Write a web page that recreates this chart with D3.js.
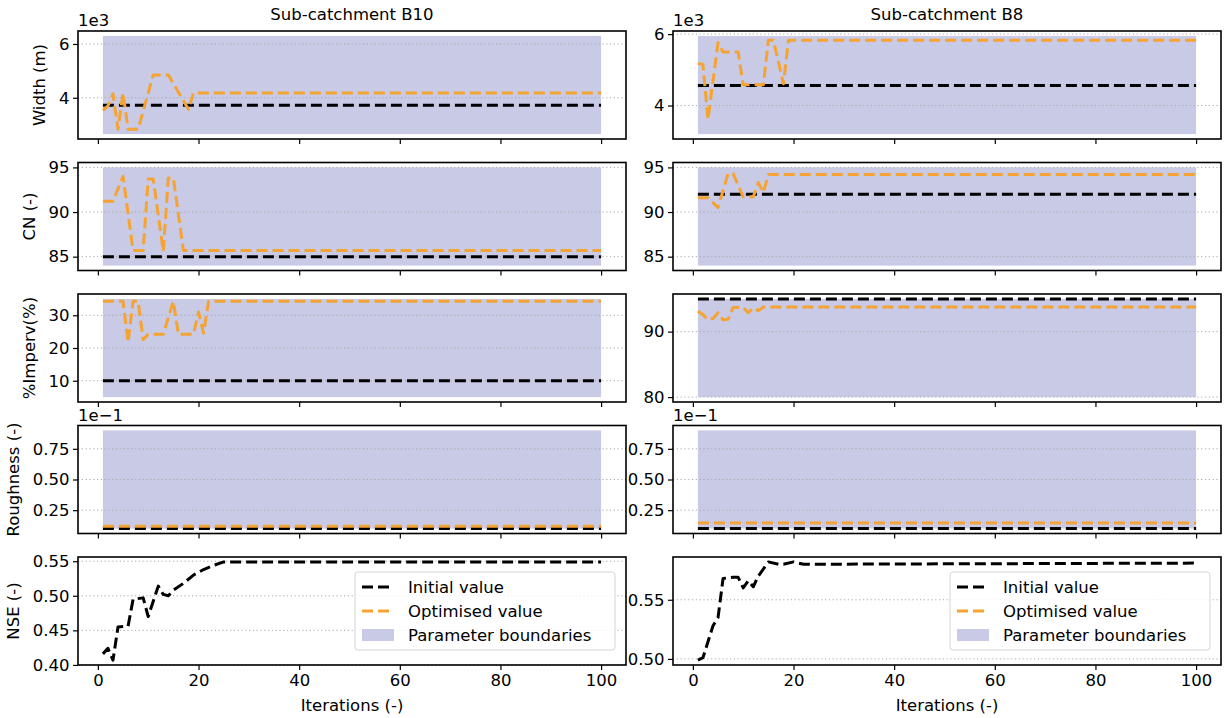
<!DOCTYPE html>
<html>
<head>
<meta charset="utf-8">
<script src="https://cdn.jsdelivr.net/npm/d3@7"></script>
<style>
    body { margin: 0; background: #fff; }
    svg { display: block; }
</style>
</head>
<body>
<svg id="calibration"></svg>
<script>
// Iteration axis
const iterStart = 1;
const iterEnd = 100;
const iterTicks = [0, 20, 40, 60, 80, 100];

// Sub-catchment B10 : [iteration, value] vertices of each trace
const b10WidthBounds = [2650, 6300];
const b10WidthInit = 3720;
const b10WidthOpt = [[1, 3530], [2, 3700], [3, 4150], [4, 2830], [5, 4180], [6, 2830], [8, 2830], [11, 4850], [14, 4850], [18, 3570], [19, 4180], [100, 4180]];
const b10CnBounds = [84, 95];
const b10CnInit = 85;
const b10CnOpt = [[1, 91.2], [3, 91.2], [5, 94.0], [7, 85.7], [9, 85.7], [10, 93.7], [11, 93.7], [13, 85.6], [14, 93.8], [15, 93.8], [17, 85.7], [100, 85.7]];
const b10ImpervBounds = [5, 35];
const b10ImpervInit = 10;
const b10ImpervOpt = [[1, 34.3], [5, 34.3], [6, 21.7], [7, 34.3], [8, 34.3], [9, 22.5], [10, 24.2], [13, 24.2], [15, 34.3], [16, 24.2], [19, 24.2], [20, 31], [21, 24.5], [22, 34.3], [100, 34.3]];
const b10RoughBounds = [0.010, 0.090];
const b10RoughInit = 0.010;
const b10RoughOpt = [[1, 0.012], [100, 0.012]];
const b10Nse = [[1, 0.416], [2, 0.424], [3, 0.407], [4, 0.455], [6, 0.456], [7, 0.495], [9, 0.497], [10, 0.470], [12, 0.514], [13, 0.502], [14, 0.500], [15, 0.508], [17, 0.518], [19, 0.530], [21, 0.538], [23, 0.544], [25, 0.549], [100, 0.549]];

// Sub-catchment B8
const b8WidthBounds = [3200, 5950];
const b8WidthInit = 4560;
const b8WidthOpt = [[1, 5180], [2, 5150], [3, 3610], [5, 5760], [6, 5500], [9, 5500], [10, 4580], [14, 4580], [15, 5830], [16, 5830], [18, 4610], [19, 5830], [100, 5830]];
const b8CnBounds = [84, 95];
const b8CnInit = 92;
const b8CnOpt = [[1, 91.6], [3, 91.6], [5, 90.5], [7, 94.3], [8, 94.3], [10, 91.7], [12, 91.7], [13, 93.3], [14, 92.2], [15, 94.2], [100, 94.2]];
const b8ImpervBounds = [80, 95];
const b8ImpervInit = 95;
const b8ImpervOpt = [[1, 93.1], [2, 92.6], [3, 91.8], [4, 92.0], [5, 92.9], [6, 91.8], [7, 91.9], [8, 93.7], [10, 93.7], [11, 92.9], [12, 93.6], [13, 93.2], [14, 93.75], [100, 93.75]];
const b8RoughBounds = [0.010, 0.090];
const b8RoughInit = 0.010;
const b8RoughOpt = [[1, 0.0145], [100, 0.0145]];
const b8Nse = [[1, 0.499], [2, 0.501], [4, 0.528], [5, 0.535], [6, 0.568], [8, 0.569], [9, 0.569], [10, 0.560], [11, 0.566], [12, 0.561], [13, 0.570], [15, 0.582], [17, 0.580], [18, 0.580], [20, 0.582], [22, 0.580], [100, 0.581]];

// Tick values per parameter
const widthTicks = [4000, 6000];
const cnTicks = [85, 90, 95];
const b10ImpervTicks = [10, 20, 30];
const b8ImpervTicks = [80, 90];
const roughTicks = [0.025, 0.05, 0.075];
const b10NseTicks = [0.40, 0.45, 0.50, 0.55];
const b8NseTicks = [0.50, 0.55];

const titles = ["Sub-catchment B10", "Sub-catchment B8"];
const rowLabels = ["Width (m)", "CN (-)", "%Imperv(%)", "Roughness (-)", "NSE (-)"];
const legendLabels = ["Initial value", "Optimised value", "Parameter boundaries"];

(function () {
    const width = 1226;
    const height = 718;
    const font = '"DejaVu Sans", "Liberation Sans", sans-serif';
    const fontSize = 16.5;

    const cols = [{ x0: 78, x1: 626 }, { x0: 673, x1: 1221 }];
    const rowTop = 31;
    const rowStep = 131.5;
    const rowH = 108;

    const initColor = "#000";
    const optColor = "#f5a332";
    const fillColor = "#c8cae6";
    const gridColor = "#a9a9a9";

    const svg = d3.select("#calibration")
        .attr("width", width)
        .attr("height", height)
        .style("font-family", font);

    const flat = v => [[iterStart, v], [iterEnd, v]];

    // One entry per subplot
    const panels = [
        { row: 0, col: 0, bounds: b10WidthBounds, init: flat(b10WidthInit), opt: b10WidthOpt, ticks: widthTicks, exp: 3, fmt: "d" },
        { row: 0, col: 1, bounds: b8WidthBounds, init: flat(b8WidthInit), opt: b8WidthOpt, ticks: widthTicks, exp: 3, fmt: "d" },
        { row: 1, col: 0, bounds: b10CnBounds, init: flat(b10CnInit), opt: b10CnOpt, ticks: cnTicks, exp: 0, fmt: "d" },
        { row: 1, col: 1, bounds: b8CnBounds, init: flat(b8CnInit), opt: b8CnOpt, ticks: cnTicks, exp: 0, fmt: "d" },
        { row: 2, col: 0, bounds: b10ImpervBounds, init: flat(b10ImpervInit), opt: b10ImpervOpt, ticks: b10ImpervTicks, exp: 0, fmt: "d" },
        { row: 2, col: 1, bounds: b8ImpervBounds, init: flat(b8ImpervInit), opt: b8ImpervOpt, ticks: b8ImpervTicks, exp: 0, fmt: "d" },
        { row: 3, col: 0, bounds: b10RoughBounds, init: flat(b10RoughInit), opt: b10RoughOpt, ticks: roughTicks, exp: -1, fmt: ".2f" },
        { row: 3, col: 1, bounds: b8RoughBounds, init: flat(b8RoughInit), opt: b8RoughOpt, ticks: roughTicks, exp: -1, fmt: ".2f" },
        { row: 4, col: 0, bounds: null, init: b10Nse, opt: null, ticks: b10NseTicks, exp: 0, fmt: ".2f" },
        { row: 4, col: 1, bounds: null, init: b8Nse, opt: null, ticks: b8NseTicks, exp: 0, fmt: ".2f" }
    ];

    const xPad = (iterEnd - iterStart) * 0.05;
    const xDomain = [iterStart - xPad, iterEnd + xPad];

    panels.forEach(p => {
        const col = cols[p.col];
        const top = rowTop + p.row * rowStep;
        const bottom = top + rowH;
        const isBottom = p.row === rowLabels.length - 1;

        const xScale = d3.scaleLinear().domain(xDomain).range([col.x0, col.x1]);

        // y extent from everything drawn, with 5% margins
        const vals = [];
        if (p.bounds) vals.push(...p.bounds);
        p.init.forEach(d => vals.push(d[1]));
        if (p.opt) p.opt.forEach(d => vals.push(d[1]));
        const [lo, hi] = d3.extent(vals);
        const yPad = (hi - lo) * 0.05;
        const yScale = d3.scaleLinear().domain([lo - yPad, hi + yPad]).range([bottom, top]);

        const g = svg.append("g");

        // parameter range band
        if (p.bounds) {
            g.append("rect")
                .attr("x", xScale(iterStart))
                .attr("width", xScale(iterEnd) - xScale(iterStart))
                .attr("y", yScale(p.bounds[1]))
                .attr("height", yScale(p.bounds[0]) - yScale(p.bounds[1]))
                .attr("fill", fillColor);
        }

        // dotted horizontal grid
        p.ticks.forEach(t => {
            g.append("line")
                .attr("x1", col.x0)
                .attr("x2", col.x1)
                .attr("y1", yScale(t))
                .attr("y2", yScale(t))
                .attr("stroke", gridColor)
                .attr("stroke-width", 1)
                .attr("stroke-dasharray", "1.2 2.6");
        });

        const line = d3.line()
            .x(d => xScale(d[0]))
            .y(d => yScale(d[1]));

        g.append("path")
            .datum(p.init)
            .attr("d", line)
            .attr("fill", "none")
            .attr("stroke", initColor)
            .attr("stroke-width", 3)
            .attr("stroke-linejoin", "round")
            .attr("stroke-dasharray", "11 5");

        if (p.opt) {
            g.append("path")
                .datum(p.opt)
                .attr("d", line)
                .attr("fill", "none")
                .attr("stroke", optColor)
                .attr("stroke-width", 3)
                .attr("stroke-linejoin", "round")
                .attr("stroke-dasharray", "11 5");
        }

        // axes
        const mult = Math.pow(10, p.exp);
        const yAxis = d3.axisLeft(yScale)
            .tickValues(p.ticks)
            .tickSize(5)
            .tickPadding(3.5)
            .tickFormat(v => d3.format(p.fmt)(v / mult));

        const ya = svg.append("g")
            .attr("transform", `translate(${col.x0},0)`)
            .call(yAxis);
        ya.select(".domain").remove();
        ya.attr("font-size", fontSize).attr("font-family", font);
        ya.selectAll("line").attr("stroke", "#000").attr("stroke-width", 1.2);
        ya.selectAll("text").attr("fill", "#000");

        const xAxis = d3.axisBottom(xScale)
            .tickValues(iterTicks)
            .tickSize(5)
            .tickPadding(4)
            .tickFormat(isBottom ? d3.format("d") : () => "");

        const xa = svg.append("g")
            .attr("transform", `translate(0,${bottom})`)
            .call(xAxis);
        xa.select(".domain").remove();
        xa.attr("font-size", fontSize).attr("font-family", font);
        xa.selectAll("line").attr("stroke", "#000").attr("stroke-width", 1.2);
        xa.selectAll("text").attr("fill", "#000");

        // axes frame
        svg.append("rect")
            .attr("x", col.x0)
            .attr("y", top)
            .attr("width", col.x1 - col.x0)
            .attr("height", bottom - top)
            .attr("fill", "none")
            .attr("stroke", "#000")
            .attr("stroke-width", 1.6);

        // scale factor above the axis
        if (p.exp !== 0) {
            svg.append("text")
                .attr("x", col.x0)
                .attr("y", top - 5)
                .attr("font-size", fontSize)
                .attr("fill", "#000")
                .text(p.exp > 0 ? `1e${p.exp}` : `1e\u2212${-p.exp}`);
        }

        if (p.row === 0) {
            svg.append("text")
                .attr("x", (col.x0 + col.x1) / 2)
                .attr("y", top - 11)
                .attr("text-anchor", "middle")
                .attr("font-size", fontSize)
                .attr("fill", "#000")
                .text(titles[p.col]);
        }

        if (p.col === 0) {
            const bb = ya.node().getBBox();
            const lx = col.x0 + bb.x - 14;
            const ly = (top + bottom) / 2;
            svg.append("text")
                .attr("x", lx)
                .attr("y", ly)
                .attr("transform", `rotate(-90,${lx},${ly})`)
                .attr("text-anchor", "middle")
                .attr("font-size", fontSize)
                .attr("fill", "#000")
                .text(rowLabels[p.row]);
        }

        if (isBottom) {
            svg.append("text")
                .attr("x", (col.x0 + col.x1) / 2)
                .attr("y", 711)
                .attr("text-anchor", "middle")
                .attr("font-size", fontSize)
                .attr("fill", "#000")
                .text("Iterations (-)");

            // legend, centred on the right edge
            const lw = 260, lh = 78;
            const lx = col.x1 - 11 - lw;
            const ly = (top + bottom) / 2 - lh / 2;
            const lg = svg.append("g").attr("transform", `translate(${lx},${ly})`);
            lg.append("rect")
                .attr("width", lw)
                .attr("height", lh)
                .attr("rx", 3)
                .attr("fill", "#fff")
                .attr("fill-opacity", 0.8)
                .attr("stroke", "#d4d4d4");

            legendLabels.forEach((label, i) => {
                const cy = 15 + i * 24;
                if (i < 2) {
                    lg.append("line")
                        .attr("x1", 7)
                        .attr("x2", 39)
                        .attr("y1", cy)
                        .attr("y2", cy)
                        .attr("stroke", i === 0 ? initColor : optColor)
                        .attr("stroke-width", 3)
                        .attr("stroke-dasharray", "11 5");
                } else {
                    lg.append("rect")
                        .attr("x", 7)
                        .attr("y", cy - 6)
                        .attr("width", 32)
                        .attr("height", 12)
                        .attr("fill", fillColor);
                }
                lg.append("text")
                    .attr("x", 53)
                    .attr("y", cy)
                    .attr("dy", "0.35em")
                    .attr("font-size", fontSize)
                    .attr("fill", "#000")
                    .text(label);
            });
        }
    });
})();
</script>
</body>
</html>
